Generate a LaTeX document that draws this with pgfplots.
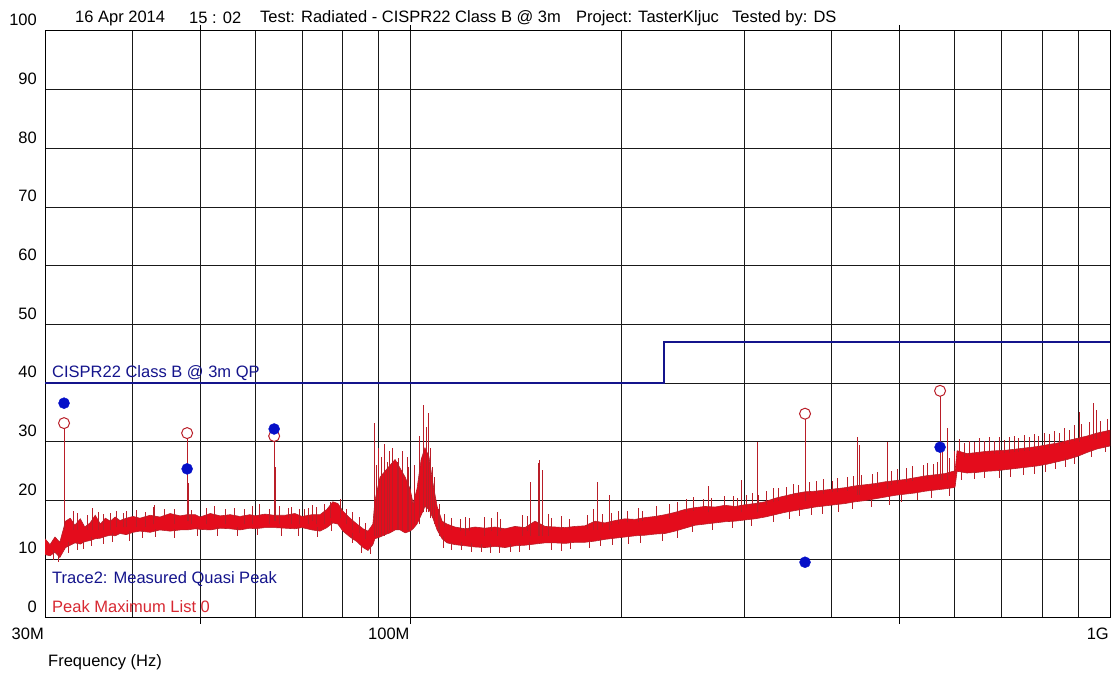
\documentclass[border=0pt]{standalone}
\usepackage{fontspec}
\setmainfont{Liberation Sans}
\usepackage{pgfplots}
\pgfplotsset{compat=1.18}

\definecolor{limitblue}{RGB}{20,20,140}
\definecolor{qpblue}{RGB}{5,15,200}
\definecolor{tracered}{RGB}{228,12,28}
\definecolor{stemred}{RGB}{185,30,40}
\definecolor{gridgray}{RGB}{25,25,25}
\definecolor{labelred}{RGB}{215,40,50}

\begin{document}
\fontsize{16.5}{19}\selectfont
\begin{tikzpicture}
\useasboundingbox (0pt,0pt) rectangle (1113pt,676pt);
\begin{axis}[
    at={(45pt,58pt)}, anchor=south west,
    scale only axis, width=1065pt, height=587pt,
    xmode=log, xmin=30, xmax=1000,
    ymin=0, ymax=100,
    xtick={30,100,1000},
    xticklabels={30M,100M,1G},
    minor xtick={40,50,60,70,80,90,200,300,400,500,600,700,800,900},
    ytick={0,10,...,100},
    xmajorgrids=true, xminorgrids=true, ymajorgrids=true,
    grid style={gridgray, line width=1pt},
    minor grid style={gridgray, line width=1pt},
    axis line style={black, line width=1pt},
    major tick length=0pt, minor tick length=0pt,
    extra x ticks={50,100,500},
    extra x tick labels={},
    extra x tick style={grid=none, tick align=outside, major tick length=6pt, tick style={black, line width=1pt}},
    /pgf/number format/assume math mode=true,
    yticklabel style={anchor=east, inner sep=0pt, xshift=-8pt, yshift=11pt},
    xticklabel style={anchor=north east, inner sep=0pt, yshift=-10pt, xshift=-1pt},
    unbounded coords=jump,
]

% limit line CISPR22 class B 3 m QP
\addplot[limitblue, line width=1.8pt] coordinates {(30,40) (230,40) (230,47) (1000,47)};

% peak trace: band outline (upper edge forward, lower edge back)
\addplot[draw=stemred, line width=0.6pt, fill=tracered] coordinates {
(30,13.5)(30.5,12.5)(31.0,13.8)(31.5,12.9)(32.1,16.5)(32.6,17.0)(33.1,15.8)(33.7,16.9)(34.2,15.5)(34.8,16.2)
(35.4,17.5)(36.0,16.0)(36.6,17.0)(37.2,16.5)(37.8,17.2)(38.4,16.6)(39.2,17.0)(40.1,17.3)(41.0,17.0)(42.4,17.5)
(43.8,17.2)(45.3,17.8)(46.8,17.4)(47.9,17.6)(49.2,17.6)(50.0,17.2)(51.7,17.8)(53.4,17.4)(55.2,17.6)(57.0,17.3)
(58.9,17.6)(59.9,17.4)(61.9,17.7)(63.8,17.5)(66.1,17.5)(68.3,17.8)(69.9,17.3)(72.3,17.6)(74.2,17.6)(75.9,18.5)
(77.4,19.8)(78.7,19.5)(80.0,18.2)(81.9,17.0)(83.8,16.0)(85.5,15.2)(86.9,14.8)(88.3,16.0)(88.9,20)(90.4,24)
(91.9,25)(93.4,26)(95.0,27)(96.6,25.5)(98.2,24)(99.8,22)(100.8,19.5)(102.1,22)(103.5,27)(104.8,29)
(106.2,27.5)(107.6,23)(109.1,19)(110.9,16.5)(112.7,16.0)(115.7,15.5)(119.6,15.2)(123.6,15.5)(127.7,15.3)(132.0,15.5)
(136.4,15.2)(141.0,15.6)(145.7,15.4)(150.6,16.5)(155.6,15.6)(160.9,15.5)(166.2,15.4)(171.8,15.6)(177.5,15.7)(183.5,16.5)
(189.6,16.2)(196.0,16.6)(202.5,16.9)(209.3,16.8)(216.3,17.1)(223.6,17.3)(231.1,17.6)(238.8,18.0)(246.8,18.5)(255.0,18.8)
(263.6,19.0)(272.4,18.9)(281.5,19.2)(291.0,19.0)(300.7,19.3)(310.8,19.5)(321.2,19.8)(331.9,20.4)(343.0,20.8)(354.5,21.2)
(366.4,21.5)(378.6,21.6)(391.3,21.8)(404.4,22.0)(418.0,22.2)(431.9,22.5)(446.4,22.7)(461.3,22.9)(476.8,23.2)(492.8,23.4)
(509.3,23.6)(526.3,23.9)(543.9,24.2)(562.1,24.4)(580.9,24.6)(596.5,25.0)(600.4,25.0)(604.4,28.5)(624.5,28.0)(645.5,28.2)
(667.1,28.4)(689.4,28.5)(712.5,28.6)(736.3,28.8)(761.0,29.0)(786.5,29.2)(812.8,29.5)(840.0,29.8)(868.1,30.2)(897.2,30.6)
(927.2,31.0)(958.2,31.5)(1000,32)
(1000,29.3)(958.2,28.8)(927.2,28.2)(897.2,27.5)(868.1,27.0)(840.0,26.6)(812.8,26.2)(786.5,25.9)(761.0,25.7)(736.3,25.5)
(712.5,25.3)(689.4,25.1)(667.1,25.0)(645.5,24.8)(624.5,24.7)(604.4,25.0)(600.4,22.3)(596.5,22.2)(580.9,22.0)(562.1,21.8)
(543.9,21.6)(526.3,21.3)(509.3,21.1)(492.8,20.9)(476.8,20.6)(461.3,20.3)(446.4,20.0)(431.9,19.8)(418.0,19.5)(404.4,19.3)
(391.3,19.1)(378.6,18.9)(366.4,18.6)(354.5,18.3)(343.0,18.0)(331.9,17.6)(321.2,17.2)(310.8,16.9)(300.7,16.7)(291.0,16.5)
(281.5,16.4)(272.4,16.2)(263.6,16.0)(255.0,15.8)(246.8,15.3)(238.8,14.8)(231.1,14.4)(223.6,14.3)(216.3,14.1)(209.3,14.0)
(202.5,13.8)(196.0,13.6)(189.6,13.4)(183.5,13.1)(177.5,12.9)(171.8,12.9)(166.2,12.7)(160.9,12.8)(155.6,12.8)(150.6,12.6)
(145.7,12.4)(141.0,12.3)(136.4,12.0)(132.0,12.2)(127.7,12.0)(123.6,12.1)(119.6,12.3)(115.7,12.5)(112.7,12.8)(110.9,13.5)
(109.1,15)(107.6,17)(106.2,18.5)(104.8,19)(103.5,17.5)(102.1,16)(100.8,15.2)(99.8,14.8)(98.2,14.5)(96.6,15)
(95.0,15)(93.4,14.5)(91.9,14.2)(90.4,13.8)(88.9,13.5)(88.3,12.5)(86.9,11.5)(85.5,12.0)(83.8,13.0)(81.9,13.8)
(80.0,14.8)(78.7,16.0)(77.4,16.2)(75.9,15.4)(74.2,14.8)(72.3,15.0)(69.9,15.4)(68.3,15.2)(66.1,15.3)(63.8,15.4)
(61.9,15.4)(59.9,15.2)(58.9,15.3)(57.0,15.0)(55.2,15.2)(53.4,15.3)(51.7,15.0)(50.0,15.1)(49.2,15.2)(47.9,15.0)
(46.8,15.0)(45.3,14.8)(43.8,15.0)(42.4,14.6)(41.0,14.8)(40.1,14.6)(39.2,14.2)(38.4,14.4)(37.8,14.0)(37.2,14.1)
(36.6,13.9)(36.0,13.6)(35.4,13.5)(34.8,13.2)(34.2,13.0)(33.7,12.6)(33.1,12.8)(32.6,12.4)(32.1,12.0)(31.5,10.3)
(31.0,11.2)(30.5,10.6)(30,10.8)
};

% short up and down excursions along the peak trace
\addplot[stemred, line width=0.7pt] coordinates {
(32.9,15)(32.9,18.2)(32.9,nan) (33.4,15)(33.4,17.9)(33.4,nan) (34.5,15)(34.5,17.6)(34.5,nan)
(35.8,15)(35.8,18)(35.8,nan) (36.3,15)(36.3,17.8)(36.3,nan) (38.0,15.5)(38.0,18.3)(38.0,nan)
(38.8,15.5)(38.8,17.9)(38.8,nan) (40.5,15.5)(40.5,18.4)(40.5,nan) (41.7,15.5)(41.7,18.1)(41.7,nan)
(42.8,16)(42.8,18.9)(42.8,nan) (46.0,16)(46.0,18.6)(46.0,nan) (48.6,16)(48.6,18.4)(48.6,nan)
(51.0,16)(51.0,18.7)(51.0,nan) (54.3,16)(54.3,18.6)(54.3,nan) (57.8,16)(57.8,18.5)(57.8,nan)
(59.3,16)(59.3,19)(59.3,nan) (62.7,16)(62.7,18.6)(62.7,nan) (65.0,16)(65.0,19)(65.0,nan)
(67.5,16)(67.5,18.9)(67.5,nan) (69.2,16)(69.2,18.5)(69.2,nan) (71.3,16)(71.3,18.8)(71.3,nan)
(73.2,16)(73.2,18.9)(73.2,nan) (75.2,16)(75.2,19.5)(75.2,nan) (79.3,17)(79.3,20.2)(79.3,nan)
(81.0,16)(81.0,18.6)(81.0,nan) (84.5,14.5)(84.5,17.2)(84.5,nan) (86.2,13.5)(86.2,16.2)(86.2,nan)
(30.8,11.5)(30.8,9.8)(30.8,nan) (31.3,11)(31.3,9.5)(31.3,nan) (32.4,13)(32.4,11.0)(32.4,nan)
(33.4,13)(33.4,11.5)(33.4,nan) (34.0,13.2)(34.0,11.8)(34.0,nan) (35.0,13.8)(35.0,12.2)(35.0,nan)
(36.3,14)(36.3,12.6)(36.3,nan) (37.5,14.5)(37.5,13.0)(37.5,nan) (39.6,14.8)(39.6,13.2)(39.6,nan)
(41.3,15)(41.3,13.6)(41.3,nan) (43.2,15.2)(43.2,13.8)(43.2,nan) (45.9,15.2)(45.9,13.7)(45.9,nan)
(49.6,15.5)(49.6,14.0)(49.6,nan) (52.9,15.5)(52.9,14.0)(52.9,nan) (56.5,15.5)(56.5,13.9)(56.5,nan)
(60.4,15.5)(60.4,14.1)(60.4,nan) (65.3,15.5)(65.3,14.0)(65.3,nan) (69.0,15.5)(69.0,14.0)(69.0,nan)
(73.5,15.5)(73.5,13.8)(73.5,nan) (77.0,16.5)(77.0,14.8)(77.0,nan) (82.4,14.5)(82.4,12.8)(82.4,nan)
(85.0,12.5)(85.0,11.0)(85.0,nan) (87.5,12.5)(87.5,10.9)(87.5,nan) (111.5,14)(111.5,12)(111.5,nan)
(114.5,13)(114.5,11.6)(114.5,nan) (118,13)(118,11.5)(118,nan) (122,12.8)(122,11.2)(122,nan)
(126,12.6)(126,11.3)(126,nan) (130,12.6)(130,11.0)(130,nan) (134,12.5)(134,11.1)(134,nan)
(139,12.6)(139,11.2)(139,nan) (143,12.7)(143,11.3)(143,nan) (148,13)(148,11.5)(148,nan)
(159,13)(159,11.6)(159,nan) (164,13)(164,11.4)(164,nan) (169,13.2)(169,11.8)(169,nan)
(180,13.3)(180,12.0)(180,nan) (187,13.6)(187,12.2)(187,nan) (194,13.8)(194,12.4)(194,nan)
(205,14)(205,12.6)(205,nan) (213,14.3)(213,12.8)(213,nan) (229,14.6)(229,13.2)(229,nan)
(241,15)(241,13.6)(241,nan) (253,16)(253,14.6)(253,nan) (270,16.4)(270,15.0)(270,nan)
(288,16.7)(288,15.3)(288,nan) (307,17)(307,15.6)(307,nan) (330,17.8)(330,16.3)(330,nan)
(348,18.2)(348,16.8)(348,nan) (360,18.8)(360,17.3)(360,nan) (374,19)(374,17.6)(374,nan)
(388,19.3)(388,17.8)(388,nan) (409,19.6)(409,18.1)(409,nan) (428,19.9)(428,18.5)(428,nan)
(456,20.3)(456,18.9)(456,nan) (484,20.8)(484,19.3)(484,nan) (503,21.2)(503,19.7)(503,nan)
(531,21.5)(531,20.1)(531,nan) (556,22)(556,20.5)(556,nan) (590,22.4)(590,20.8)(590,nan)
(612,25)(612,23.5)(612,nan) (640,25)(640,23.6)(640,nan) (662,25.2)(662,23.9)(662,nan)
(695,25.3)(695,23.9)(695,nan) (720,25.5)(720,24.1)(720,nan) (752,25.8)(752,24.3)(752,nan)
(780,26)(780,24.6)(780,nan) (808,26.4)(808,24.9)(808,nan) (835,26.8)(835,25.3)(835,nan)
(862,27.2)(862,25.8)(862,nan) (890,27.7)(890,26.3)(890,nan) (940,28.8)(940,27.5)(940,nan)
(985,29.5)(985,28.2)(985,nan)
(111.9,15.5)(111.9,17.8)(111.9,nan) (114.2,15)(114.2,17)(114.2,nan) (117.6,14.8)(117.6,16.9)(117.6,nan)
(121.5,14.8)(121.5,17.1)(121.5,nan) (130.5,14.8)(130.5,17)(130.5,nan) (134.5,14.8)(134.5,16.9)(134.5,nan)
(146.8,14.8)(146.8,17.3)(146.8,nan) (159.0,15)(159.0,17)(159.0,nan) (164.5,15)(164.5,17.4)(164.5,nan)
(168.5,15)(168.5,16.9)(168.5,nan) (178.8,15.2)(178.8,17.5)(178.8,nan) (188.0,15.5)(188.0,17.8)(188.0,nan)
(193.5,15.8)(193.5,17.9)(193.5,nan) (198.2,16)(198.2,18.3)(198.2,nan) (203.8,16.3)(203.8,18.2)(203.8,nan)
(211.5,16.3)(211.5,18.8)(211.5,nan) (214.5,16.5)(214.5,18.3)(214.5,nan) (224.8,16.8)(224.8,19.1)(224.8,nan)
(234.5,17)(234.5,19.4)(234.5,nan) (240.5,17.5)(240.5,19.8)(240.5,nan) (247.8,18)(247.8,20.2)(247.8,nan)
(253.5,18.3)(253.5,20.6)(253.5,nan) (262.0,18.5)(262.0,20.3)(262.0,nan) (268.8,18.5)(268.8,20.4)(268.8,nan)
(281.2,18.7)(281.2,20.8)(281.2,nan) (289.0,18.5)(289.0,20.7)(289.0,nan) (293.5,18.6)(293.5,20.5)(293.5,nan)
(302.4,18.8)(302.4,21)(302.4,nan) (308.0,19)(308.0,21.3)(308.0,nan) (314.5,19.2)(314.5,21.0)(314.5,nan)
(322.8,19.3)(322.8,21.6)(322.8,nan) (330.5,19.8)(330.5,22.2)(330.5,nan) (335.2,20)(335.2,22.2)(335.2,nan)
(344.8,20.3)(344.8,22.4)(344.8,nan) (353.0,20.6)(353.0,22.9)(353.0,nan) (358.5,20.8)(358.5,22.6)(358.5,nan)
(372.2,21)(372.2,23.2)(372.2,nan) (380.5,21.1)(380.5,23.3)(380.5,nan) (388.9,21.2)(388.9,23.6)(388.9,nan)
(401.0,21.5)(401.0,23.4)(401.0,nan) (407.5,21.5)(407.5,23.9)(407.5,nan) (420.5,21.7)(420.5,24.0)(420.5,nan)
(429.0,22)(429.0,24.2)(429.0,nan) (440.5,22.2)(440.5,24.4)(440.5,nan) (458.0,22.4)(458.0,24.6)(458.0,nan)
(465.5,22.4)(465.5,24.9)(465.5,nan) (486.0,22.7)(486.0,25.1)(486.0,nan) (496.0,22.9)(496.0,25.4)(496.0,nan)
(512.0,23.1)(512.0,25.5)(512.0,nan) (522.5,23.4)(522.5,25.9)(522.5,nan) (540.0,23.7)(540.0,26.0)(540.0,nan)
(548.0,23.7)(548.0,26.4)(548.0,nan) (559.5,23.9)(559.5,26.3)(559.5,nan) (566.0,24)(566.0,26.6)(566.0,nan)
(590.0,24.3)(590.0,27.2)(590.0,nan) (598.5,24.5)(598.5,28.5)(598.5,nan)
(608.5,28)(608.5,30.5)(608.5,nan) (620.0,27.5)(620.0,29.8)(620.0,nan) (628.8,27.6)(628.8,30.2)(628.8,nan)
(640.5,27.8)(640.5,29.9)(640.5,nan) (650.0,27.8)(650.0,30.6)(650.0,nan) (661.0,27.9)(661.0,30.1)(661.0,nan)
(671.5,28)(671.5,30.8)(671.5,nan) (684.0,28)(684.0,30.2)(684.0,nan) (694.5,28)(694.5,30.9)(694.5,nan)
(706.5,28.1)(706.5,30.3)(706.5,nan) (718.0,28.1)(718.0,30.8)(718.0,nan) (731.0,28.3)(731.0,31.0)(731.0,nan)
(740.5,28.3)(740.5,30.6)(740.5,nan) (755.0,28.5)(755.0,31.2)(755.0,nan) (766.0,28.5)(766.0,30.9)(766.0,nan)
(779.5,28.7)(779.5,31.3)(779.5,nan) (791.0,28.7)(791.0,31.0)(791.0,nan) (806.0,29)(806.0,31.6)(806.0,nan)
(818.5,29)(818.5,31.4)(818.5,nan) (832.0,29.3)(832.0,31.9)(832.0,nan) (846.0,29.3)(846.0,31.6)(846.0,nan)
(861.5,29.7)(861.5,32.3)(861.5,nan) (874.5,29.7)(874.5,32.0)(874.5,nan) (890.5,30.1)(890.5,32.8)(890.5,nan)
(910.0,30.5)(910.0,33.0)(910.0,nan) (935.0,30.5)(935.0,33.4)(935.0,nan) (968.0,31)(968.0,33.6)(968.0,nan)
(990.0,31.3)(990.0,33.9)(990.0,nan)
(89.2,14)(89.2,26)(89.2,nan) (90.0,14)(90.0,24.5)(90.0,nan) (90.9,14)(90.9,27.5)(90.9,nan)
(92.5,14.5)(92.5,26.5)(92.5,nan) (94.2,15)(94.2,29)(94.2,nan) (95.6,15)(95.6,26.5)(95.6,nan)
(96.0,15)(96.0,27.3)(96.0,nan) (99.3,14.8)(99.3,25.8)(99.3,nan) (100.3,15)(100.3,21)(100.3,nan)
(102.8,16)(102.8,27.8)(102.8,nan) (103.0,16)(103.0,31)(103.0,nan) (105.3,18)(105.3,32.5)(105.3,nan)
(106.8,17)(106.8,29)(106.8,nan) (108.2,16)(108.2,24)(108.2,nan) (110.0,14)(110.0,19.5)(110.0,nan)
};

% narrow spikes of the peak trace
\addplot[stemred, line width=1pt] coordinates {
(31.94,15)(31.94,32.3)(31.94,nan) (47.9,16.5)(47.9,30.6)(47.9,nan) (48.1,16.5)(48.1,23)(48.1,nan)
(63.8,16.5)(63.8,30.2)(63.8,nan) (64.1,16.5)(64.1,25.7)(64.1,nan) (366.4,20)(366.4,33.9)(366.4,nan)
(367.5,20)(367.5,27.4)(367.5,nan) (571.5,23.5)(571.5,37.8)(571.5,nan) (576,23.5)(576,29.5)(576,nan)
(585,23.5)(585,32.4)(585,nan)
(35.1,15)(35.1,18.7)(35.1,nan) (37.2,15)(37.2,17.9)(37.2,nan) (39.3,15.5)(39.3,18.2)(39.3,nan)
(72.3,16.5)(72.3,19.2)(72.3,nan) (76.7,17)(76.7,19.8)(76.7,nan) (82.7,15)(82.7,18)(82.7,nan)
(88.9,14)(88.9,33.2)(88.9,nan) (89.8,14)(89.8,29)(89.8,nan) (91.6,14)(91.6,29.7)(91.6,nan)
(93.4,15)(93.4,28.4)(93.4,nan) (97.2,15)(97.2,28.4)(97.2,nan) (98.8,15)(98.8,27.5)(98.8,nan)
(101.4,16)(101.4,26)(101.4,nan) (104.2,18)(104.2,36.3)(104.2,nan) (105.9,18)(105.9,35)(105.9,nan)
(107.6,17)(107.6,25.7)(107.6,nan) (109.6,15)(109.6,18.5)(109.6,nan) (119.6,14)(119.6,17.2)(119.6,nan)
(127.7,14)(127.7,17.2)(127.7,nan) (132.9,14)(132.9,18)(132.9,nan) (144.3,14)(144.3,17.5)(144.3,nan)
(148.6,14)(148.6,23.2)(148.6,nan) (152.1,14)(152.1,26.4)(152.1,nan) (152.8,14)(152.8,27)(152.8,nan)
(154.6,14)(154.6,25.2)(154.6,nan) (157.3,14)(157.3,17.8)(157.3,nan) (182.3,15)(182.3,18.5)(182.3,nan)
(185.3,15)(185.3,23.2)(185.3,nan) (192.2,15)(192.2,21)(192.2,nan) (266.2,18)(266.2,22.5)(266.2,nan)
(297.7,18)(297.7,23.5)(297.7,nan) (313.8,18)(313.8,30)(313.8,nan) (435.0,21)(435.0,30.8)(435.0,nan)
(437.7,21)(437.7,29.5)(437.7,nan) (480,22)(480,30)(480,nan) (904,30)(904,35.1)(904,nan)
(946,30.5)(946,36.6)(946,nan) (955,30.5)(955,35.4)(955,nan)
(43.0,17)(43.0,19.3)(43.0,nan) (44.5,17)(44.5,18.5)(44.5,nan) (52.5,17)(52.5,19)(52.5,nan)
(56,17)(56,18.8)(56,nan) (60.8,17)(60.8,19.5)(60.8,nan) (66.9,17)(66.9,18.7)(66.9,nan)
(70.5,17)(70.5,18.6)(70.5,nan)
};

% peak maximum list (open circles)
\addplot[only marks, mark=o, mark size=5.5pt, stemred, mark options={line width=1pt}] coordinates {
(31.94,33.2) (47.9,31.5) (63.8,31.0) (366.4,34.8) (571.5,38.7)
};

% measured quasi peak (filled dots)
\addplot[only marks, mark=*, mark size=5.5pt, qpblue] coordinates {
(31.94,36.6) (47.9,25.4) (63.8,32.2) (366.4,9.5) (571.5,29.1)
};
\end{axis}

\node[anchor=west, inner sep=0pt] at (75pt,658pt) {16 Apr 2014};
\node[anchor=west, inner sep=0pt] at (189pt,658pt) {15 : 02};
\node[anchor=west, inner sep=0pt] at (260pt,658pt) {Test: Radiated - CISPR22 Class B @ 3m};
\node[anchor=west, inner sep=0pt] at (576pt,658pt) {Project: TasterKljuc};
\node[anchor=west, inner sep=0pt] at (732pt,658pt) {Tested by: DS};

\node[anchor=west, inner sep=0pt, text=limitblue] at (52pt,303pt) {CISPR22 Class B @ 3m QP};
\node[anchor=west, inner sep=0pt, text=limitblue] at (52pt,97pt) {Trace2: Measured Quasi Peak};
\node[anchor=west, inner sep=0pt, text=labelred] at (52pt,69pt) {Peak Maximum List 0};

\node[anchor=west, inner sep=0pt] at (48pt,14pt) {Frequency (Hz)};
\end{tikzpicture}
\end{document}
